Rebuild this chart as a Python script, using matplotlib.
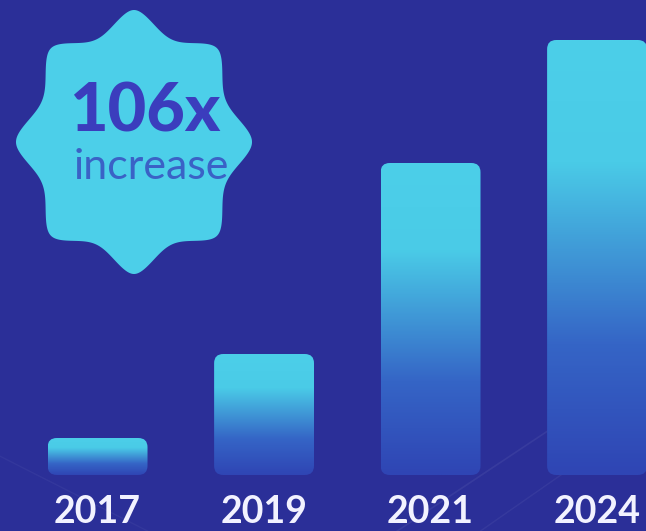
#!/usr/bin/env python3
# bar chart with gradient bars and a star badge
import numpy as np
import matplotlib
matplotlib.use('Agg')
from matplotlib import pyplot as plt
from matplotlib.patches import FancyBboxPatch, Polygon
from matplotlib.colors import LinearSegmentedColormap

# data (bar heights, arbitrary units)
years = ['2017', '2019', '2021', '2024']
values = [37, 121, 312, 435]
badge_big = '106x'
badge_small = 'increase'

# colours
bg = '#2b2f98'
cyan = '#4ccfe9'
bar_cmap = LinearSegmentedColormap.from_list(
	'bar', [(0.0, '#2f45b4'), (0.3, '#3565c6'), (0.72, '#4acbe7'), (1.0, cyan)])

fig = plt.figure(figsize=(6.46, 5.31), dpi=100, facecolor=bg)
ax = fig.add_axes([0, 0, 1, 1])
ax.set_facecolor(bg)
ax.set_xlim(-0.586, 3.294)
ax.set_ylim(-56, 475)
ax.axis('off')

# faint diagonal streaks in the background
ax.plot([1.8, 3.3], [-56, 110], color='white', alpha=0.06, lw=1.2)
ax.plot([2.3, 3.3], [-56, 60], color='white', alpha=0.05, lw=1.0)
ax.plot([-0.6, 0.3], [20, -56], color='white', alpha=0.04, lw=1.0)

width = 0.6
grad = np.linspace(0, 1, 256).reshape(-1, 1)
for i, (yr, v) in enumerate(zip(years, values)):
	x0 = i - width / 2
	patch = FancyBboxPatch((x0, 0), width, v,
		boxstyle='round,pad=0,rounding_size=0.055', mutation_aspect=166.5,
		facecolor='none', edgecolor='none')
	ax.add_patch(patch)
	im = ax.imshow(grad, cmap=bar_cmap, origin='lower', aspect='auto',
		extent=[x0, x0 + width, 0, v], zorder=2)
	im.set_clip_path(patch)
	ax.text(i, -37, yr, ha='center', va='center', color='#f2f2ff',
		fontsize=27, fontweight='bold', family=['Lato', 'DejaVu Sans'])

# badge, drawn in pixel coordinates on an overlay axes
bx = fig.add_axes([0, 0, 1, 1])
bx.set_xlim(0, 646)
bx.set_ylim(531, 0)
bx.axis('off')
th = np.linspace(0, 2 * np.pi, 1440)
e = 0.35
s = np.sqrt(np.sin(4 * th) ** 2 + e ** 2) - e
r = 1 - 0.16 * s / (np.sqrt(1 + e ** 2) - e)
cx, cy = 134, 142
pts = np.column_stack([cx + 118 * r * np.sin(th), cy - 132 * r * np.cos(th)])
bx.add_patch(Polygon(pts, closed=True, facecolor=cyan, edgecolor='none'))
bx.text(145, 113, badge_big, ha='center', va='center', color='#3b3dbd',
	fontsize=48, fontweight='black', family=['Lato', 'DejaVu Sans'])
bx.text(151, 167, badge_small, ha='center', va='center', color='#3a62c6',
	fontsize=31, fontweight='normal', family=['Lato', 'DejaVu Sans'])

plt.savefig('out.png', dpi=100, facecolor=bg)
